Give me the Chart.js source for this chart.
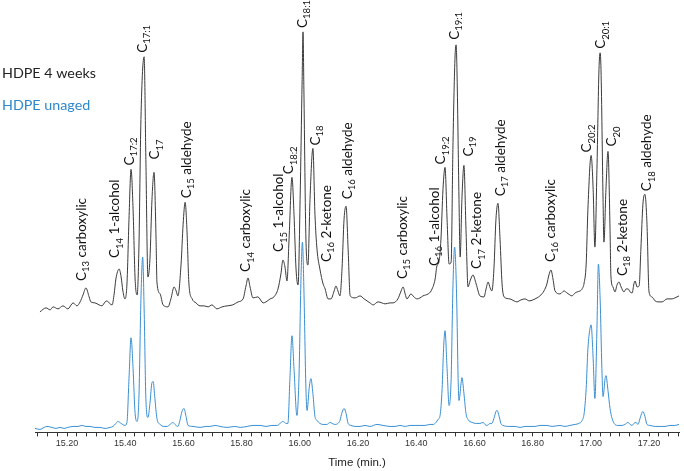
<!DOCTYPE html>
<html>
<head>
<meta charset="utf-8">
<script src="https://cdn.jsdelivr.net/npm/chart.js@4.4.1/dist/chart.umd.min.js"></script>
<style>
  html, body { margin: 0; padding: 0; background: #fff; }
  #wrap { width: 684px; height: 471px; position: relative; }
</style>
</head>
<body>
<div id="wrap"><canvas id="chrom"></canvas></div>
<script>
// retention time (min) and detector response
const agedTime = [15.107,15.128,15.142,15.152,15.169,15.186,15.203,15.221,15.234,15.245,15.255,15.265,15.276,15.282,15.296,15.310,15.320,15.331,15.337,15.348,15.355,15.362,15.368,15.379,15.386,15.392,15.399,15.406,15.413,15.420,15.427,15.434,15.441,15.447,15.454,15.465,15.471,15.478,15.485,15.492,15.499,15.506,15.509,15.520,15.530,15.547,15.557,15.568,15.575,15.581,15.592,15.599,15.606,15.612,15.619,15.630,15.643,15.657,15.671,15.685,15.698,15.715,15.733,15.750,15.770,15.788,15.805,15.815,15.822,15.829,15.839,15.856,15.874,15.884,15.898,15.911,15.925,15.935,15.942,15.949,15.956,15.963,15.973,15.980,15.987,15.994,16.001,16.008,16.011,16.014,16.021,16.028,16.035,16.045,16.052,16.059,16.069,16.080,16.087,16.097,16.107,16.118,16.124,16.131,16.138,16.145,16.152,16.159,16.166,16.173,16.190,16.207,16.221,16.231,16.241,16.252,16.269,16.282,16.293,16.310,16.320,16.337,16.348,16.355,16.362,16.368,16.382,16.392,16.403,16.413,16.423,16.441,16.451,16.465,16.471,16.478,16.485,16.492,16.499,16.506,16.513,16.520,16.526,16.533,16.537,16.540,16.547,16.551,16.557,16.564,16.571,16.578,16.585,16.595,16.606,16.619,16.633,16.640,16.647,16.654,16.660,16.667,16.674,16.681,16.688,16.695,16.702,16.722,16.736,16.746,16.760,16.774,16.788,16.801,16.815,16.825,16.839,16.849,16.856,16.863,16.870,16.877,16.894,16.908,16.918,16.928,16.935,16.946,16.953,16.963,16.970,16.977,16.984,16.990,17.001,17.008,17.014,17.021,17.028,17.032,17.035,17.042,17.045,17.052,17.059,17.066,17.069,17.076,17.083,17.090,17.097,17.104,17.114,17.121,17.128,17.135,17.142,17.148,17.152,17.159,17.166,17.172,17.179,17.186,17.193,17.200,17.210,17.221,17.231,17.245,17.262,17.279,17.289,17.303];
const agedSignal = [121,125,123,126,124,127,124,130,127,131,138,145,136,131,130,128,127,131,132,129,128,139,154,164,156,142,134,149,214,264,224,154,138,184,314,377,274,156,174,234,261,194,151,139,128,126,134,146,142,137,169,209,231,204,149,134,130,127,127,126,128,124,126,127,128,131,134,147,155,146,135,136,130,131,134,136,144,159,173,166,152,194,256,219,164,148,234,354,402,344,194,168,234,285,219,184,164,149,144,134,134,142,147,142,137,164,214,227,184,137,135,137,134,132,130,128,131,130,129,130,130,134,142,146,139,134,139,136,134,135,137,139,142,154,167,171,194,244,266,214,169,171,284,374,389,364,234,176,234,268,204,146,152,158,149,137,136,144,151,145,142,164,214,230,194,149,136,134,132,131,133,134,132,133,135,137,142,149,158,163,154,142,139,142,140,138,137,140,141,142,144,150,169,224,278,244,186,264,364,381,364,234,191,244,282,204,157,146,141,148,151,146,141,144,144,141,140,149,152,146,147,184,229,239,209,141,136,132,131,131,134,134,135,137];

const unagedTime = [15.090,15.107,15.121,15.131,15.148,15.162,15.176,15.190,15.203,15.221,15.238,15.252,15.265,15.279,15.296,15.313,15.331,15.348,15.358,15.368,15.375,15.386,15.399,15.406,15.413,15.420,15.427,15.434,15.441,15.447,15.454,15.460,15.465,15.471,15.478,15.485,15.492,15.496,15.502,15.509,15.520,15.533,15.544,15.554,15.564,15.571,15.581,15.588,15.595,15.602,15.609,15.616,15.633,15.657,15.678,15.691,15.709,15.726,15.750,15.777,15.795,15.819,15.839,15.863,15.884,15.904,15.922,15.932,15.942,15.953,15.959,15.966,15.973,15.980,15.990,15.997,16.004,16.009,16.014,16.021,16.025,16.032,16.038,16.045,16.052,16.059,16.069,16.080,16.093,16.104,16.111,16.121,16.131,16.138,16.145,16.152,16.159,16.166,16.176,16.190,16.207,16.224,16.241,16.265,16.286,16.310,16.327,16.344,16.362,16.379,16.396,16.413,16.430,16.447,16.458,16.468,16.475,16.482,16.489,16.494,16.499,16.506,16.513,16.520,16.526,16.532,16.539,16.544,16.547,16.554,16.557,16.564,16.571,16.578,16.592,16.606,16.619,16.630,16.636,16.643,16.654,16.660,16.667,16.674,16.678,16.685,16.691,16.698,16.722,16.740,16.757,16.774,16.791,16.808,16.825,16.849,16.867,16.894,16.911,16.928,16.946,16.959,16.970,16.977,16.984,16.990,16.997,17.001,17.008,17.014,17.021,17.026,17.032,17.038,17.042,17.049,17.052,17.059,17.066,17.073,17.083,17.093,17.107,17.117,17.128,17.135,17.142,17.148,17.155,17.162,17.169,17.176,17.179,17.186,17.193,17.203,17.221,17.238,17.255,17.272,17.289,17.303];
const unagedSignal = [4,3,5,6,5,4,5,4,5,6,6,7,6,6,5,5,4,5,6,9,11,9,7,10,54,95,64,19,11,34,134,176,124,34,15,29,50,51,34,14,8,6,6,8,10,8,6,12,21,24,16,7,6,5,6,6,7,6,5,6,5,6,7,7,6,7,7,9,11,9,9,54,97,64,17,54,154,191,144,44,22,44,54,39,16,12,9,8,8,10,9,8,9,12,20,24,19,9,7,6,6,7,6,8,7,6,6,7,6,7,7,7,7,8,8,10,13,17,44,84,102,64,27,54,144,186,134,54,32,49,55,39,19,13,10,9,9,10,8,7,9,9,14,21,22,16,9,7,6,6,5,6,6,6,7,7,6,7,6,7,8,9,12,19,44,84,104,108,74,34,104,169,134,64,36,54,57,42,24,14,8,7,7,8,10,8,7,9,10,8,14,20,21,16,8,7,6,6,6,7,7,8];

const seriesNames = ['HDPE 4 weeks', 'HDPE unaged'];
const tickLabels = ['15.20','15.40','15.60','15.80','16.00','16.20','16.40','16.60','16.80','17.00','17.20'];

// peak annotations: C + subscript + name, placed at (time, level)
const peakSub  = ['13','14','17:2','17:1','17','15','14','15','18:2','18:1','18','16','16','15','16','19:2','19:1','19','17','17','16','20:2','20:1','20','18','18'];
const peakName = [' carboxylic',' 1-alcohol','','','',' aldehyde',' carboxylic',' 1-alcohol','','','',' 2-ketone',' aldehyde',' carboxylic',' 1-alcohol','','','',' 2-ketone',' aldehyde',' carboxylic','','','',' 2-ketone',' aldehyde'];
const peakTime = [15.265,15.380,15.430,15.474,15.517,15.625,15.829,15.943,15.978,16.024,16.069,16.106,16.179,16.368,16.477,16.499,16.546,16.594,16.623,16.705,16.876,17.001,17.049,17.087,17.124,17.207];
const peakLevel = [152,175,268,381,274,235,161,181,259,406,288,171,234,154,167,269,394,277,164,237,171,281,385,287,157,242];

const BLACK = '#3b3b3b', BLUE = '#3a8fd2';
const pts = (xs, ys) => xs.map((x, i) => ({ x, y: ys[i] }));

const annotate = {
  id: 'annotate',
  afterDatasetsDraw(chart) {
    const { ctx, scales: { x, y } } = chart;
    ctx.save();
    ctx.font = '14.3px Lato';
    ctx.textAlign = 'left';
    ctx.textBaseline = 'alphabetic';
    ctx.fillStyle = '#222';
    ctx.fillText(seriesNames[0], 2, 78);
    ctx.fillStyle = '#2f87cc';
    ctx.fillText(seriesNames[1], 2, 110);
    ctx.fillStyle = '#111';
    peakTime.forEach((t, i) => {
      ctx.save();
      ctx.translate(x.getPixelForValue(t), y.getPixelForValue(peakLevel[i]));
      ctx.rotate(-Math.PI / 2);
      ctx.font = '13.5px Lato';
      ctx.fillText('C', 0, 0);
      let w = ctx.measureText('C').width;
      ctx.font = '9.5px Lato';
      ctx.fillText(peakSub[i], w, 3.5);
      w += ctx.measureText(peakSub[i]).width;
      ctx.font = '13.5px Lato';
      if (peakName[i]) ctx.fillText(peakName[i], w, 0);
      ctx.restore();
    });
    ctx.restore();
  }
};

new Chart(document.getElementById('chrom'), {
  type: 'line',
  data: {
    datasets: [
      { label: seriesNames[0], data: pts(agedTime, agedSignal), borderColor: BLACK, borderWidth: 1, pointRadius: 0, fill: false, cubicInterpolationMode: 'monotone' },
      { label: seriesNames[1], data: pts(unagedTime, unagedSignal), borderColor: BLUE, borderWidth: 1, pointRadius: 0, fill: false, cubicInterpolationMode: 'monotone' }
    ]
  },
  options: {
    responsive: true, maintainAspectRatio: false, animation: false,
    layout: { padding: { left: 35, right: 5, top: 4, bottom: 0 } },
    plugins: { legend: { display: false }, tooltip: { enabled: false } },
    scales: {
      x: {
        type: 'linear', min: 15.09, max: 17.303,
        afterBuildTicks: (s) => {
          const ticks = [];
          for (let k = Math.ceil(s.min * 30); k <= Math.floor(s.max * 30); k++) ticks.push({ value: k / 30 });
          s.ticks = ticks;
        },
        ticks: {
          autoSkip: false, maxRotation: 0, padding: 2, color: '#333',
          font: { family: 'Liberation Sans', size: 9 },
          callback: (v) => { const s = Number(v).toFixed(2); return tickLabels.includes(s) ? s : ''; }
        },
        grid: { drawOnChartArea: false, drawTicks: true, tickLength: 4, color: '#333' },
        border: { display: true, color: '#333', width: 1 },
        title: { display: true, text: 'Time (min.)', color: '#222', font: { family: 'Liberation Sans', size: 11.5 }, padding: { top: 5, bottom: 1 } }
      },
      y: { display: false, min: 0, max: 430 }
    }
  },
  plugins: [annotate]
});
</script>
</body>
</html>
